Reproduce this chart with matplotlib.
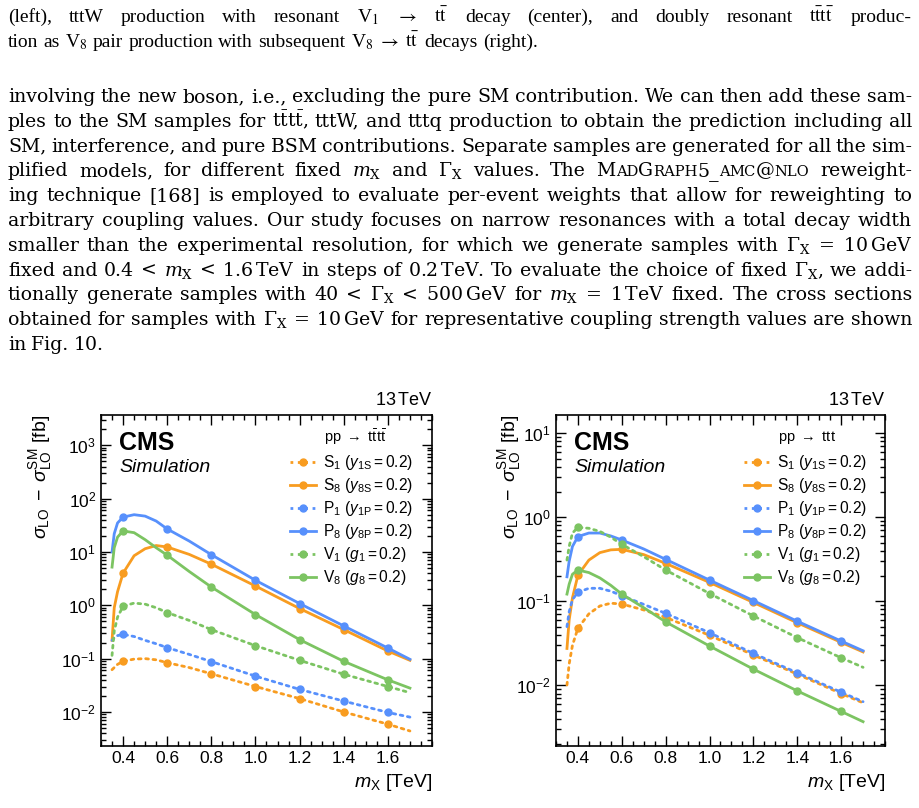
import numpy as np
import matplotlib
matplotlib.use("Agg")
import matplotlib.pyplot as plt
from matplotlib.lines import Line2D
from matplotlib.ticker import LogLocator, MultipleLocator, NullFormatter, FixedLocator, FixedFormatter

# ---------------- data ----------------
mass_points = [0.4, 0.6, 0.8, 1.0, 1.2, 1.4, 1.6]
curve_mass = [0.35, 0.36, 0.375, 0.4, 0.45, 0.5, 0.55, 0.6, 0.7, 0.8, 1.0, 1.2, 1.4, 1.6, 1.7]

# left panel: pp -> tttt
tttt_S1 = [0.062, 0.068, 0.078, 0.089, 0.098, 0.100, 0.095, 0.084, 0.068, 0.052, 0.030, 0.0178, 0.010, 0.0059, 0.0044]
tttt_S8 = [0.22, 0.9, 1.8, 4.0, 8.5, 11.5, 13.2, 12.4, 9.0, 5.9, 2.3, 0.87, 0.35, 0.139, 0.093]
tttt_P1 = [0.22, 0.245, 0.27, 0.285, 0.26, 0.22, 0.19, 0.161, 0.12, 0.088, 0.047, 0.0265, 0.016, 0.0098, 0.008]
tttt_P8 = [10.0, 22.0, 35.0, 45.0, 50.0, 47.0, 38.0, 27.0, 16.0, 8.9, 2.94, 1.08, 0.41, 0.158, 0.097]
tttt_V1 = [0.115, 0.33, 0.6, 0.96, 1.1, 1.05, 0.9, 0.73, 0.52, 0.35, 0.175, 0.093, 0.051, 0.030, 0.023]
tttt_V8 = [5.2, 12.0, 19.0, 24.8, 23.0, 17.0, 12.0, 8.7, 4.3, 2.2, 0.67, 0.227, 0.089, 0.040, 0.028]

# right panel: pp -> ttt
ttt_S1 = [0.0101, 0.018, 0.030, 0.048, 0.071, 0.088, 0.095, 0.093, 0.079, 0.0645, 0.0394, 0.023, 0.0136, 0.008, 0.0062]
ttt_S8 = [0.0275, 0.06, 0.11, 0.205, 0.31, 0.38, 0.41, 0.416, 0.36, 0.283, 0.168, 0.097, 0.0556, 0.0325, 0.025]
ttt_P1 = [0.05, 0.075, 0.105, 0.128, 0.143, 0.143, 0.132, 0.117, 0.092, 0.072, 0.0423, 0.024, 0.0141, 0.0083, 0.0064]
ttt_P8 = [0.196, 0.3, 0.45, 0.59, 0.65, 0.65, 0.6, 0.537, 0.42, 0.316, 0.179, 0.102, 0.058, 0.0337, 0.0258]
ttt_V1 = [0.31, 0.45, 0.65, 0.76, 0.74, 0.68, 0.58, 0.477, 0.34, 0.236, 0.124, 0.067, 0.037, 0.0213, 0.0164]
ttt_V8 = [0.122, 0.16, 0.21, 0.236, 0.22, 0.19, 0.155, 0.122, 0.084, 0.057, 0.0294, 0.0156, 0.0086, 0.0049, 0.0037]

series_labels = [r"S$_1$ ($y_{\mathrm{1S}} = 0.2$)", r"S$_8$ ($y_{\mathrm{8S}} = 0.2$)",
                 r"P$_1$ ($y_{\mathrm{1P}} = 0.2$)", r"P$_8$ ($y_{\mathrm{8P}} = 0.2$)",
                 r"V$_1$ ($g_1 = 0.2$)", r"V$_8$ ($g_8 = 0.2$)"]
x_ticks = [0.4, 0.6, 0.8, 1.0, 1.2, 1.4, 1.6]
x_ticklabels = ["0.4", "0.6", "0.8", "1.0", "1.2", "1.4", "1.6"]

# ---------------- style ----------------
plt.rcParams.update({
    "font.family": ["Liberation Sans", "DejaVu Sans"],
    "mathtext.fontset": "custom",
    "mathtext.rm": "Liberation Sans",
    "mathtext.it": "Liberation Sans:italic",
    "mathtext.bf": "Liberation Sans:bold",
    "mathtext.sf": "Liberation Sans",
})
ORANGE = "#f89c20"
BLUE = "#5790fc"
GREEN = "#7cc462"
colors = [ORANGE, ORANGE, BLUE, BLUE, GREEN, GREEN]
styles = [":", "-", ":", "-", ":", "-"]

W, H = 920, 808
fig = plt.figure(figsize=(W / 100, H / 100), dpi=100)


def px_axes(l, t, r, b):
    return fig.add_axes([l / W, 1 - b / H, (r - l) / W, (b - t) / H])


def draw_panel(ax, values, ylim, header, width_px, ylab_px):
    idx = [curve_mass.index(m) for m in mass_points]
    for vals, c, ls in zip(values, colors, styles):
        v = np.array(vals)
        ax.plot(curve_mass, v, color=c, ls=ls, lw=2.0, dash_capstyle="round")
        ax.plot(mass_points, v[idx], "o", color=c, ms=5, mec=c)
    ax.set_yscale("log")
    ax.set_xlim(0.3, 1.8)
    ax.set_ylim(*ylim)
    ax.xaxis.set_major_locator(FixedLocator(x_ticks))
    ax.xaxis.set_major_formatter(FixedFormatter(x_ticklabels))
    ax.xaxis.set_minor_locator(MultipleLocator(0.05))
    ax.yaxis.set_major_locator(LogLocator(base=10, numticks=20))
    ax.yaxis.set_minor_locator(LogLocator(base=10, subs=np.arange(2, 10), numticks=20))
    ax.yaxis.set_minor_formatter(NullFormatter())
    ax.xaxis.get_offset_text().set_visible(False)
    ax.yaxis.get_offset_text().set_visible(False)
    ax.tick_params(which="both", direction="in", top=True, right=True, labelsize=12.5, width=1.0)
    ax.tick_params(which="major", length=7)
    ax.tick_params(which="minor", length=3.5)
    for s in ax.spines.values():
        s.set_linewidth(1.2)
    ax.set_ylabel(r"$\sigma_{\mathrm{LO}}\;-\;\sigma_{\mathrm{LO}}^{\mathrm{SM}}$ [fb]", fontsize=14, loc="top")
    ax.yaxis.set_label_coords(ylab_px / width_px, 1.0)
    ax.set_xlabel(r"$m_{\mathrm{X}}$ [TeV]", fontsize=14, loc="right")
    ax.xaxis.set_label_coords(1.0, -0.08)
    ax.text(1.0, 1.018, r"13$\,$TeV", transform=ax.transAxes, ha="right", va="bottom", fontsize=13)
    ax.text(18 / width_px, (746 - 450) / 331, "CMS", transform=ax.transAxes, fontsize=18,
            fontweight="bold", va="baseline")
    ax.text(18 / width_px, (746 - 472) / 331, "Simulation", transform=ax.transAxes, fontsize=14,
            style="italic", va="baseline")
    handles = [Line2D([], [], color=c, ls=ls, lw=2.0, marker="o", ms=5) for c, ls in zip(colors, styles)]
    ax.text(0.675, (746 - 437) / 331, header, transform=ax.transAxes, fontsize=10.5, va="center")
    ax.legend(handles, series_labels, loc="upper left", bbox_to_anchor=(0.57, (746 - 453) / 331),
              frameon=False, fontsize=11.2, handlelength=1.7, handletextpad=0.45,
              labelspacing=0.26, borderpad=0, borderaxespad=0, numpoints=1)


axL = px_axes(101, 415, 432, 746)
axR = px_axes(556, 415, 885, 746)
draw_panel(axL, [tttt_S1, tttt_S8, tttt_P1, tttt_P8, tttt_V1, tttt_V8], (2.3e-3, 3.7e3),
           r"pp $\rightarrow$ t$\bar{\mathrm{t}}$t$\bar{\mathrm{t}}$", 331, -47)
draw_panel(axR, [ttt_S1, ttt_S8, ttt_P1, ttt_P8, ttt_V1, ttt_V8], (1.9e-3, 16.5),
           r"pp $\rightarrow$ ttt", 329, -33)

# ---------------- page text ----------------
renderer = fig.canvas.get_renderer()
BODY = dict(family="DejaVu Serif", math_fontfamily="dejavuserif")
CAP = dict(family="Liberation Serif", math_fontfamily="stix")
FS_BODY = 13.6
FS_CAP = 14.0


def place_line(words, y_px, justify=True, x0=8.0, x1=912.0, fs=FS_BODY, font=BODY):
    objs_all = []
    for w in words:
        segs = w if isinstance(w, list) else [(w, 1.0)]
        objs = []
        for txt, rel in segs:
            t = fig.text(0, 1 - y_px / H, txt, fontsize=fs * rel, va="baseline", ha="left", **font)
            t._rel = rel
            objs.append(t)
        objs_all.append(objs)
    n = len(objs_all)

    def measure():
        return [[o.get_window_extent(renderer).width for o in objs] for objs in objs_all]

    widths = measure()
    total = sum(sum(ws) for ws in widths)
    minspace = fs * 100 / 72 * 0.22
    if total + (n - 1) * minspace > (x1 - x0):
        scale = (x1 - x0) / (total + (n - 1) * minspace)
        fs = fs * scale
        for objs in objs_all:
            for o in objs:
                o.set_fontsize(fs * o._rel)
        widths = measure()
        total = sum(sum(ws) for ws in widths)
    space = fs * 100 / 72 * 0.27
    if justify and n > 1:
        space = (x1 - x0 - total) / (n - 1)
    x = x0
    for objs, ws in zip(objs_all, widths):
        for o, w in zip(objs, ws):
            o.set_x(x / W)
            x += w
        x += space


tb = r"t$\bar{\mathrm{t}}$"
SCR = 0.78
lines = [
    (["(left),", "tttW", "production", "with", "resonant", r"V$_1$", r"$\rightarrow$", tb, "decay", "(center),",
      "and", "doubly", "resonant", tb + tb, "produc-"], 22, True, FS_CAP, CAP),
    (["tion", "as", r"V$_8$", "pair", "production", "with", "subsequent", r"V$_8$", r"$\rightarrow$", tb,
      "decays", "(right)."], 47, False, FS_CAP, CAP),
    ("involving the new boson, i.e., excluding the pure SM contribution. We can then add these sam-".split(),
     102, True, FS_BODY, BODY),
    (["ples", "to", "the", "SM", "samples", "for", tb + tb + ",", "tttW,", "and", "tttq", "production", "to",
      "obtain", "the", "prediction", "including", "all"], 126.8, True, FS_BODY, BODY),
    ("SM, interference, and pure BSM contributions. Separate samples are generated for all the sim-".split(),
     151.6, True, FS_BODY, BODY),
    (["plified", "models,", "for", "different", "fixed", r"$m_{\mathrm{X}}$", "and", r"$\Gamma_{\mathrm{X}}$",
      "values.", "The",
      [("M", 1.0), ("AD", SCR), ("G", 1.0), ("RAPH", SCR), ("5_", 1.0), ("A", SCR), ("MC", SCR), ("@", 1.0),
       ("NLO", SCR)],
      "reweight-"], 176.4, True, FS_BODY, BODY),
    ("ing technique [168] is employed to evaluate per-event weights that allow for reweighting to".split(),
     201.2, True, FS_BODY, BODY),
    ("arbitrary coupling values. Our study focuses on narrow resonances with a total decay width".split(),
     226, True, FS_BODY, BODY),
    (["smaller", "than", "the", "experimental", "resolution,", "for", "which", "we", "generate", "samples",
      "with", r"$\Gamma_{\mathrm{X}}$", "=", r"10$\,$GeV"], 250.8, True, FS_BODY, BODY),
    (["fixed", "and", "0.4", "<", r"$m_{\mathrm{X}}$", "<", r"1.6$\,$TeV", "in", "steps", "of", r"0.2$\,$TeV.",
      "To", "evaluate", "the", "choice", "of", "fixed", r"$\Gamma_{\mathrm{X}}$,", "we", "addi-"], 275.6, True,
     FS_BODY, BODY),
    (["tionally", "generate", "samples", "with", "40", "<", r"$\Gamma_{\mathrm{X}}$", "<", r"500$\,$GeV", "for",
      r"$m_{\mathrm{X}}$", "=", r"1$\,$TeV", "fixed.", "The", "cross", "sections"], 300.4, True, FS_BODY, BODY),
    (["obtained", "for", "samples", "with", r"$\Gamma_{\mathrm{X}}$", "=", r"10$\,$GeV", "for", "representative",
      "coupling", "strength", "values", "are", "shown"], 325.2, True, FS_BODY, BODY),
    (["in", "Fig.", "10."], 350, False, FS_BODY, BODY),
]
for words, y, just, fs, font in lines:
    place_line(words, y, just, fs=fs, font=font)

fig.savefig("out.png", dpi=100)
